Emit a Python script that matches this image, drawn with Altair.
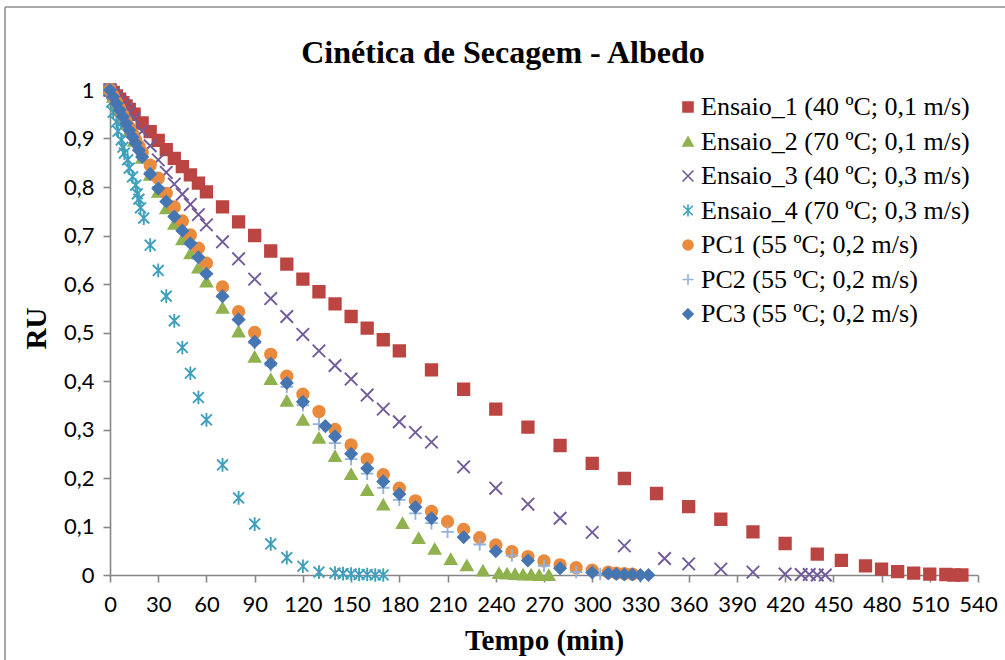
import altair as alt
import pandas as pd

# ---------------- data ----------------
TITLE = "Cinética de Secagem - Albedo"
SERIES = [
    "Ensaio_1 (40 ºC; 0,1 m/s)",
    "Ensaio_2 (70 ºC; 0,1 m/s)",
    "Ensaio_3 (40 ºC; 0,3 m/s)",
    "Ensaio_4 (70 ºC; 0,3 m/s)",
    "PC1 (55 ºC; 0,2 m/s)",
    "PC2 (55 ºC; 0,2 m/s)",
    "PC3 (55 ºC; 0,2 m/s)",
]

e1_t = [0, 2, 4, 6, 8, 10, 12, 15, 20, 25, 30, 35, 40, 45, 50, 55, 60,
        70, 80, 90, 100, 110, 120, 130, 140, 150, 160, 170, 180,
        200, 220, 240, 260, 280, 300, 320, 340, 360, 380, 400, 420, 440,
        455, 470, 480, 490, 500, 510, 520, 525, 530]
e1_ru = [1.0, 0.995, 0.988, 0.981, 0.974, 0.967, 0.96, 0.95,
         0.932, 0.914, 0.896, 0.877, 0.859, 0.842, 0.825, 0.808, 0.79,
         0.759, 0.728, 0.7, 0.668, 0.641, 0.61, 0.584, 0.559, 0.533, 0.509, 0.485, 0.462,
         0.423, 0.383, 0.342, 0.305, 0.267, 0.23, 0.199, 0.168, 0.141, 0.115, 0.089, 0.065, 0.043,
         0.03, 0.019, 0.012, 0.007, 0.004, 0.002, 0.001, 0.0, 0.0]

e2_t = [0, 2, 4, 6, 8, 10, 12, 15, 20, 25, 30, 35, 40, 45, 50, 55, 60,
        70, 80, 90, 100, 110, 120, 130, 140, 150, 160, 170,
        182, 192, 202, 212, 222, 232, 242, 247, 252, 257, 262, 267, 273]
e2_ru = [1.0, 0.986, 0.972, 0.958, 0.944, 0.93, 0.916, 0.895,
         0.86, 0.825, 0.79, 0.756, 0.724, 0.692, 0.663, 0.634, 0.605,
         0.551, 0.502, 0.45, 0.404, 0.359, 0.32, 0.283, 0.245, 0.208, 0.175, 0.145,
         0.107, 0.076, 0.054, 0.033, 0.02, 0.009, 0.004, 0.003, 0.002, 0.001, 0.001, 0.0, 0.0]

e3_t = [0, 2, 4, 6, 8, 10, 12, 15, 20, 25, 30, 35, 40, 45, 50, 55, 60,
        70, 80, 90, 100, 110, 120, 130, 140, 150, 160, 170, 180, 190, 200,
        220, 240, 260, 280, 300, 320, 345, 360, 380, 400, 420, 430, 435, 440, 445]
e3_ru = [1.0, 0.993, 0.985, 0.977, 0.969, 0.961, 0.953, 0.941,
         0.915, 0.885, 0.856, 0.83, 0.806, 0.785, 0.764, 0.743, 0.722,
         0.687, 0.652, 0.61, 0.57, 0.533, 0.496, 0.462, 0.432, 0.404, 0.371, 0.342, 0.316, 0.294, 0.274,
         0.223, 0.179, 0.146, 0.117, 0.088, 0.06, 0.034, 0.023, 0.012, 0.006, 0.002, 0.001, 0.001, 0.0, 0.0]

e4_t = [0, 1, 2, 4, 5, 7, 8, 9, 11, 12, 14, 16, 17, 18, 19, 21,
        25, 30, 35, 40, 45, 50, 55, 60,
        70, 80, 90, 100, 110, 120, 130, 140, 145, 150, 155, 160, 165, 170]
e4_ru = [1.0, 0.975, 0.954, 0.934, 0.915, 0.897, 0.882, 0.87, 0.856, 0.839, 0.821, 0.804, 0.786, 0.775, 0.757, 0.736,
         0.68, 0.628, 0.575, 0.524, 0.469, 0.416, 0.366, 0.32,
         0.227, 0.159, 0.105, 0.064, 0.036, 0.018, 0.006, 0.004, 0.003, 0.002, 0.001, 0.001, 0.0, 0.0]

pc1_t = [0, 2, 4, 6, 8, 10, 12, 14, 16, 18, 20, 25, 30, 35, 40, 45, 50, 55, 60,
         70, 80, 90, 100, 110, 120, 130, 140, 150, 160, 170, 180, 190, 200, 210, 220,
         230, 240, 250, 260, 270, 280, 290, 300, 310, 315, 320, 325]
pc1_ru = [1.0, 0.988, 0.975, 0.962, 0.949, 0.936, 0.923, 0.91, 0.897, 0.884, 0.871,
          0.845, 0.818, 0.787, 0.759, 0.73, 0.701, 0.674, 0.643,
          0.594, 0.543, 0.5, 0.455, 0.41, 0.373, 0.337, 0.3, 0.268, 0.239, 0.207, 0.179, 0.153, 0.131, 0.11, 0.094,
          0.077, 0.062, 0.048, 0.038, 0.029, 0.021, 0.015, 0.01, 0.006, 0.004, 0.003, 0.002]

pc2_t = [0, 2, 4, 6, 8, 10, 12, 14, 16, 18, 20, 25, 30, 35, 40, 45, 50, 55, 60,
         70, 80, 90, 100, 110, 120, 130, 140, 150, 160, 170, 180, 190, 200, 210,
         230, 250, 270, 290, 305]
pc2_ru = [1.0, 0.987, 0.973, 0.959, 0.945, 0.931, 0.918, 0.904, 0.89, 0.877, 0.863,
          0.83, 0.8, 0.77, 0.74, 0.71, 0.682, 0.652, 0.622,
          0.573, 0.525, 0.478, 0.432, 0.388, 0.35, 0.311, 0.272, 0.239, 0.209, 0.18, 0.155, 0.127, 0.107, 0.089,
          0.063, 0.04, 0.019, 0.006, 0.002]

pc3_t = [0, 2, 4, 6, 8, 10, 12, 14, 16, 18, 20, 25, 30, 35, 40, 45, 50, 55, 60,
         70, 80, 90, 100, 110, 120, 134, 140, 150, 160, 170, 180, 190, 200,
         220, 240, 260, 280, 300, 310, 315, 320, 325, 330, 335]
pc3_ru = [1.0, 0.986, 0.972, 0.959, 0.945, 0.931, 0.917, 0.903, 0.89, 0.876, 0.862,
          0.827, 0.797, 0.77, 0.739, 0.71, 0.684, 0.655, 0.621,
          0.575, 0.527, 0.481, 0.436, 0.396, 0.357, 0.307, 0.286, 0.25, 0.22, 0.193, 0.167, 0.14, 0.117,
          0.078, 0.049, 0.03, 0.014, 0.005, 0.003, 0.002, 0.001, 0.001, 0.0, 0.0]

X_TICKS = list(range(0, 541, 30))
Y_TICKS = [round(i / 10, 1) for i in range(11)]

# ---------------- styling ----------------
COLORS = ["#BB4542", "#8FB24F", "#715A9B", "#3FA0BE", "#EA8A3C", "#93B3DC", "#4676B2"]
FILLS = ["#BB4542", "#8FB24F", "transparent", "transparent", "#EA8A3C", "transparent", "#4676B2"]
SHAPES = [
    "square",
    "triangle-up",
    "M-1.1,-1.1L1.1,1.1M-1.1,1.1L1.1,-1.1",
    "M-0.95,-0.95L0.95,0.95M-0.95,0.95L0.95,-0.95M0,-1.2L0,1.2",
    "circle",
    "M-1.1,0L1.1,0M0,-1.1L0,1.1",
    "M0,-1L1,0L0,1L-1,0Z",
]

rows = []
for name, ts, rs in zip(SERIES,
                        [e1_t, e2_t, e3_t, e4_t, pc1_t, pc2_t, pc3_t],
                        [e1_ru, e2_ru, e3_ru, e4_ru, pc1_ru, pc2_ru, pc3_ru]):
    for t, r in zip(ts, rs):
        rows.append({"Série": name, "Tempo": t, "RU": r})
df = pd.DataFrame(rows)

W, H = 868, 485
LEFT, TOP = 110, 90

leg = alt.Legend(
    title=None, orient="none", legendX=562, legendY=4,
    labelFont="Liberation Serif", labelFontSize=26, labelColor="black",
    symbolSize=100, symbolStrokeWidth=1.6, labelOffset=0, symbolOffset=3, rowPadding=8.5,
    padding=0, labelLimit=400,
)

points = alt.Chart(df).mark_point(size=130, strokeWidth=1.9, opacity=1).encode(
    x=alt.X("Tempo:Q", scale=alt.Scale(domain=[0, 540], nice=False),
            axis=alt.Axis(values=X_TICKS, title="Tempo (min)", titleX=W / 2, titleY=74,
                          titleAlign="center", titleBaseline="alphabetic",
                          labelPadding=12, labelOverlap=False, labelFlush=False)),
    y=alt.Y("RU:Q", scale=alt.Scale(domain=[0, 1], nice=False),
            axis=alt.Axis(values=Y_TICKS, title="RU", titleX=-65, titleY=238,
                          titleAlign="center", titleBaseline="alphabetic", titleAngle=270,
                          labelPadding=9, labelOverlap=False, labelFlush=False,
                          labelExpr="datum.value == 0 ? '0' : datum.value == 1 ? '1' : replace(format(datum.value, '.1f'), '.', ',')")),
    shape=alt.Shape("Série:N", scale=alt.Scale(domain=SERIES, range=SHAPES), legend=leg),
    stroke=alt.Stroke("Série:N", scale=alt.Scale(domain=SERIES, range=COLORS), legend=leg),
    fill=alt.Fill("Série:N", scale=alt.Scale(domain=SERIES, range=FILLS), legend=leg),
)

frame_df = pd.DataFrame({"k": [0]})
top_border = alt.Chart(frame_df).mark_rule(color="#8C8C8C", strokeWidth=1.5).encode(
    x=alt.value(5 - LEFT), x2=alt.value(1005 - LEFT), y=alt.value(7 - TOP))
left_border = alt.Chart(frame_df).mark_rule(color="#8C8C8C", strokeWidth=1.5).encode(
    x=alt.value(5 - LEFT), y=alt.value(7 - TOP), y2=alt.value(660 - TOP))
title_text = alt.Chart(frame_df).mark_text(
    text=TITLE, font="Liberation Serif", fontSize=32, fontWeight="bold", color="black",
    align="center", baseline="alphabetic",
).encode(x=alt.value(503 - LEFT), y=alt.value(63 - TOP))

chart = alt.layer(top_border, left_border, title_text, points).properties(
    width=W, height=H,
    autosize=alt.AutoSizeParams(type="none"),
    padding={"left": LEFT, "top": TOP, "right": 1005 - LEFT - W, "bottom": 660 - TOP - H},
    background="white",
).configure_view(stroke=None).configure_axis(
    grid=False, domainColor="#868686", domainWidth=1.6, tickColor="#868686", tickWidth=1.6,
    tickSize=7, labelFont="Lato", labelFontSize=22, labelColor="black",
    titleFont="Liberation Serif", titleFontSize=29, titleFontWeight="bold", titleColor="black",
)

chart.save("out.html", embed_options={"renderer": "svg", "actions": False})
